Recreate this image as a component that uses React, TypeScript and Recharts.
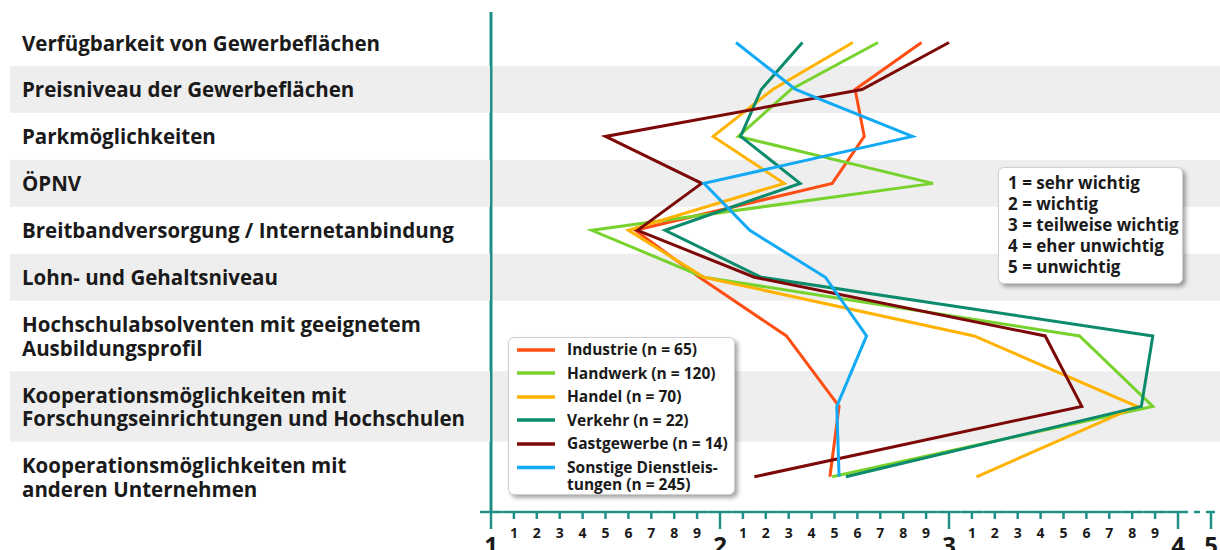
import React from 'react';
import { LineChart, Line, XAxis, YAxis, ReferenceArea, Legend } from 'recharts';

// ---------- DATA ----------
const categories = [
  'Verfügbarkeit von Gewerbeflächen',
  'Preisniveau der Gewerbeflächen',
  'Parkmöglichkeiten',
  'ÖPNV',
  'Breitbandversorgung / Internetanbindung',
  'Lohn- und Gehaltsniveau',
  'Hochschulabsolventen mit geeignetem\nAusbildungsprofil',
  'Kooperationsmöglichkeiten mit\nForschungseinrichtungen und Hochschulen',
  'Kooperationsmöglichkeiten mit\nanderen Unternehmen',
];

const seriesNames = [
  'Industrie (n = 65)',
  'Handwerk (n = 120)',
  'Handel (n = 70)',
  'Verkehr (n = 22)',
  'Gastgewerbe (n = 14)',
  'Sonstige Dienstleis-\ntungen (n = 245)',
];

const industrie = [2.88, 2.59, 2.63, 2.49, 1.63, 1.91, 2.29, 2.52, 2.48];
const handwerk = [2.69, 2.31, 2.08, 2.93, 1.44, 1.93, 3.57, 3.89, 2.49];
const handel = [2.58, 2.23, 1.97, 2.28, 1.6, 1.93, 3.11, 3.82, 3.12];
const verkehr = [2.36, 2.18, 2.09, 2.35, 1.76, 2.18, 3.89, 3.84, 2.55];
const gastgewerbe = [3.0, 2.62, 1.5, 1.92, 1.64, 2.15, 3.42, 3.58, 2.15];
const sonstige = [2.07, 2.33, 2.84, 1.93, 2.13, 2.46, 2.64, 2.51, 2.52];

const majorTickLabels = ['1', '2', '3', '4'];
const minorTickLabels = ['1', '2', '3', '4', '5', '6', '7', '8', '9'];
const breakTickLabel = '5';

const scaleLegend = [
  '1 = sehr wichtig',
  '2 = wichtig',
  '3 = teilweise wichtig',
  '4 = eher unwichtig',
  '5 = unwichtig',
];

// ---------- STYLE / LAYOUT ----------
const W = 1220;
const H = 550;
const PLOT_LEFT = 491;
const PLOT_TOP = 12;
const PLOT_BOTTOM = 512;
const X_PX_PER_UNIT = 229;
const X_MAX = 1 + (W - PLOT_LEFT) / X_PX_PER_UNIT;
const BREAK_VALUE = 1 + (1211 - PLOT_LEFT) / X_PX_PER_UNIT;
const Y_TOP_PAD = 0.15;

const FONT = '"Open Sans", "Noto Sans", sans-serif';
const TEXT = '#1a1a1a';
const TEAL = '#1f9088';
const BAND = '#eeeeee';

const colors = ['#ff4e14', '#78d22d', '#ffb300', '#0b8a6c', '#7d0808', '#12a9f5'];
const keys = ['ind', 'hw', 'hd', 'vk', 'gg', 'so'];
const seriesValues = [industrie, handwerk, handel, verkehr, gastgewerbe, sonstige];

// row geometry derived from the label line counts
const rowUnits = categories.map((c) => (c.split('\n').length > 1 ? 1.5 : 1));
const rowBounds: number[] = [0];
rowUnits.forEach((u, i) => rowBounds.push(rowBounds[i] + u));
const rowCenters = rowUnits.map((u, i) => rowBounds[i] + u / 2);
const Y_MAX = rowBounds[rowBounds.length - 1];
const Y_PX_PER_UNIT = (PLOT_BOTTOM - PLOT_TOP) / (Y_MAX + Y_TOP_PAD);

const data = categories.map((c, i) => {
  const row: Record<string, any> = { pos: rowCenters[i], cat: c };
  keys.forEach((k, s) => {
    row[k] = seriesValues[s][i];
  });
  return row;
});

const xTicks: number[] = [];
majorTickLabels.forEach((_, m) => {
  xTicks.push(m + 1);
  if (m < majorTickLabels.length - 1) {
    minorTickLabels.forEach((_, k) => xTicks.push(Math.round((m + 1 + (k + 1) / 10) * 10) / 10));
  }
});
xTicks.push(BREAK_VALUE);

const YTick = (props: any) => {
  const { y, payload } = props;
  const i = rowCenters.findIndex((c) => Math.abs(c - payload.value) < 1e-6);
  if (i < 0) return null;
  const h = rowUnits[i] * Y_PX_PER_UNIT;
  const lines = categories[i].split('\n');
  return (
    <g>
      {i % 2 === 1 && <rect x={10} y={y - h / 2} width={PLOT_LEFT - 11} height={h} fill={BAND} />}
      {lines.map((l, k) => (
        <text
          key={k}
          x={22}
          y={y + (k - (lines.length - 1) / 2) * 23.5}
          dominantBaseline="central"
          textAnchor="start"
          fontFamily={FONT}
          fontWeight={700}
          fontSize={20.5}
          fill={TEXT}
        >
          {l}
        </text>
      ))}
    </g>
  );
};

const XTick = (props: any) => {
  const { x, y, payload } = props;
  const v = payload.value as number;
  const half = (X_PX_PER_UNIT * 0.1) / 2;
  const sw = 2.5;
  if (Math.abs(v - BREAK_VALUE) < 1e-6) {
    return (
      <g>
        <line x1={x - 17} x2={x - 11} y1={y} y2={y} stroke={TEAL} strokeWidth={sw} />
        <line x1={x - 5} x2={x + 4} y1={y} y2={y} stroke={TEAL} strokeWidth={sw} />
        <line x1={x} x2={x} y1={y} y2={y + 17} stroke={TEAL} strokeWidth={sw} />
        <text x={x} y={y + 32} textAnchor="middle" dominantBaseline="central" fontFamily={FONT} fontWeight={700} fontSize={24} fill={TEXT}>
          {breakTickLabel}
        </text>
      </g>
    );
  }
  const isMajor = Math.abs(v - Math.round(v)) < 1e-6;
  if (isMajor) {
    const m = Math.round(v);
    const left = m === 1 ? x - 11 : x - half;
    const right = m === majorTickLabels.length ? x + 10 : x + half;
    return (
      <g>
        <line x1={left} x2={right} y1={y} y2={y} stroke={TEAL} strokeWidth={sw} />
        <line x1={x} x2={x} y1={y} y2={y + 17} stroke={TEAL} strokeWidth={sw} />
        <text x={x} y={y + 32} textAnchor="middle" dominantBaseline="central" fontFamily={FONT} fontWeight={700} fontSize={24} fill={TEXT}>
          {majorTickLabels[m - 1]}
        </text>
      </g>
    );
  }
  const k = Math.round((v - Math.floor(v + 1e-9)) * 10);
  return (
    <g>
      <line x1={x - half} x2={x + half} y1={y} y2={y} stroke={TEAL} strokeWidth={sw} />
      <line x1={x} x2={x} y1={y} y2={y + 7} stroke={TEAL} strokeWidth={sw} />
      <text x={x} y={y + 20} textAnchor="middle" dominantBaseline="central" fontFamily={FONT} fontWeight={700} fontSize={14} fill={TEXT}>
        {minorTickLabels[k - 1]}
      </text>
    </g>
  );
};

const SeriesLegend = (props: any) => {
  const payload = [...(props.payload || [])].sort(
    (a: any, b: any) => seriesNames.indexOf(a.value) - seriesNames.indexOf(b.value)
  );
  return (
    <div
      style={{
        background: '#fff',
        border: '1px solid #cfcfcf',
        borderRadius: 6,
        boxShadow: '3px 3px 4px rgba(0,0,0,0.35)',
        padding: '0 6px 1px 8px',
        fontFamily: FONT,
        fontWeight: 700,
        fontSize: 15.5,
        color: TEXT,
        boxSizing: 'border-box',
      }}
    >
      {payload.map((p: any, i: number) => {
        const multi = String(p.value).includes('\n');
        return (
          <div
            key={i}
            style={{
              display: 'flex',
              alignItems: multi ? 'flex-start' : 'center',
              height: multi ? undefined : 23.5,
              paddingTop: multi ? 3 : 0,
              lineHeight: multi ? '17px' : '23.5px',
            }}
          >
            <svg width={38} height={multi ? 17 : 6} style={{ flex: 'none', marginRight: 12 }}>
              <line x1={0} x2={38} y1={multi ? 8.5 : 3} y2={multi ? 8.5 : 3} stroke={p.color} strokeWidth={3.5} />
            </svg>
            <span style={{ whiteSpace: 'pre-line' }}>{p.value}</span>
          </div>
        );
      })}
    </div>
  );
};

export default function App() {
  return (
    <div style={{ position: 'absolute', left: 0, top: 0, width: W, height: H, background: '#fff' }}>
      <LineChart
        width={W}
        height={H}
        data={data}
        layout="vertical"
        margin={{ top: PLOT_TOP, right: 0, bottom: 0, left: 0 }}
      >
        {rowUnits.map((_, i) =>
          i % 2 === 1 ? (
            <ReferenceArea
              key={`band-${i}`}
              y1={rowBounds[i]}
              y2={rowBounds[i + 1]}
              fill={BAND}
              fillOpacity={1}
              stroke="none"
              ifOverflow="visible"
            />
          ) : null
        )}
        <XAxis
          type="number"
          domain={[1, X_MAX]}
          ticks={xTicks}
          interval={0}
          height={H - PLOT_BOTTOM}
          axisLine={false}
          tickLine={false}
          tickSize={0}
          tickMargin={0}
          tick={(p: any) => <XTick {...p} />}
          allowDataOverflow
        />
        <YAxis
          type="number"
          dataKey="pos"
          domain={[-Y_TOP_PAD, Y_MAX]}
          ticks={rowCenters}
          interval={0}
          width={PLOT_LEFT}
          tickLine={false}
          axisLine={{ stroke: TEAL, strokeWidth: 3 }}
          tick={(p: any) => <YTick {...p} />}
          allowDataOverflow
        />
        {keys.map((k, s) => (
          <Line
            key={k}
            dataKey={k}
            name={seriesNames[s]}
            stroke={colors[s]}
            strokeWidth={3}
            dot={false}
            activeDot={false}
            isAnimationActive={false}
            type="linear"
          />
        ))}
        <Legend
          layout="vertical"
          align="center"
          verticalAlign="middle"
          content={(p: any) => <SeriesLegend {...p} />}
          wrapperStyle={{ left: 508, top: 337, width: 'auto', height: 'auto' }}
        />
      </LineChart>
      <div
        style={{
          position: 'absolute',
          left: 998,
          top: 167,
          background: '#fff',
          border: '1px solid #cfcfcf',
          borderRadius: 6,
          boxShadow: '3px 3px 4px rgba(0,0,0,0.35)',
          padding: '4px 3px 6px 9px',
          fontFamily: FONT,
          fontWeight: 700,
          fontSize: 17,
          lineHeight: '21px',
          color: TEXT,
        }}
      >
        {scaleLegend.map((t, i) => (
          <div key={i}>{t}</div>
        ))}
      </div>
    </div>
  );
}
